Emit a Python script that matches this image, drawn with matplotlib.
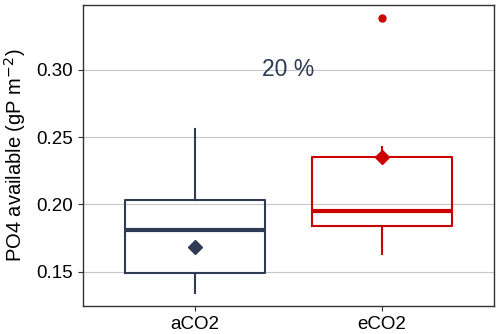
import matplotlib
matplotlib.use("Agg")
import matplotlib.pyplot as plt

groups = ["aCO2", "eCO2"]
whislo = [0.1344, 0.1634]
q1 = [0.1490, 0.1842]
med = [0.1812, 0.1953]
q3 = [0.2035, 0.2356]
whishi = [0.2562, 0.2429]
means = [0.1686, 0.2356]
outliers = [[], [0.338]]
colors = ["#2F3B55", "#CC0000"]
label_text = "20 %"

plt.rcParams['font.family'] = ['Liberation Sans', 'DejaVu Sans']
fig = plt.figure(figsize=(5, 3.34), dpi=100)
ax = fig.add_axes([83/500, 28/334, 411/500, 301/334])

stats = []
for i in range(2):
    stats.append(dict(label=groups[i], whislo=whislo[i], q1=q1[i], med=med[i],
                      q3=q3[i], whishi=whishi[i], fliers=outliers[i]))
for i in range(2):
    c = colors[i]
    ax.bxp([stats[i]], positions=[i + 1], widths=0.75, showcaps=False,
           boxprops=dict(color=c, linewidth=1.5),
           whiskerprops=dict(color=c, linewidth=1.5),
           medianprops=dict(color=c, linewidth=3),
           flierprops=dict(marker='o', markerfacecolor=c, markeredgecolor=c, markersize=5),
           zorder=3)
    ax.plot([i + 1], [means[i]], marker='D', color=c, markersize=7, zorder=4)

ax.text(1.5, 0.30, label_text, ha='center', va='center', fontsize=16.5, color="#2F3B55")

ax.set_xlim(0.4, 2.6)
ax.set_ylim(0.1247, 0.348)
ax.set_yticks([0.15, 0.20, 0.25, 0.30])
ax.set_yticklabels(["0.15", "0.20", "0.25", "0.30"])
ax.set_xticks([1, 2])
ax.set_xticklabels(groups)
ax.yaxis.grid(True, color="#C8C8C8", linewidth=0.8, zorder=0)
ax.set_axisbelow(True)
for s in ax.spines.values():
    s.set_color("#333333")
    s.set_linewidth(1.0)
ax.tick_params(axis='both', labelsize=13.5, colors="#333333", labelcolor="black", length=3.5, width=0.8)
ax.set_ylabel(r"PO4 available (gP m$^{-2}$)", fontsize=14.5, labelpad=6)

fig.savefig("out.png", dpi=100)
